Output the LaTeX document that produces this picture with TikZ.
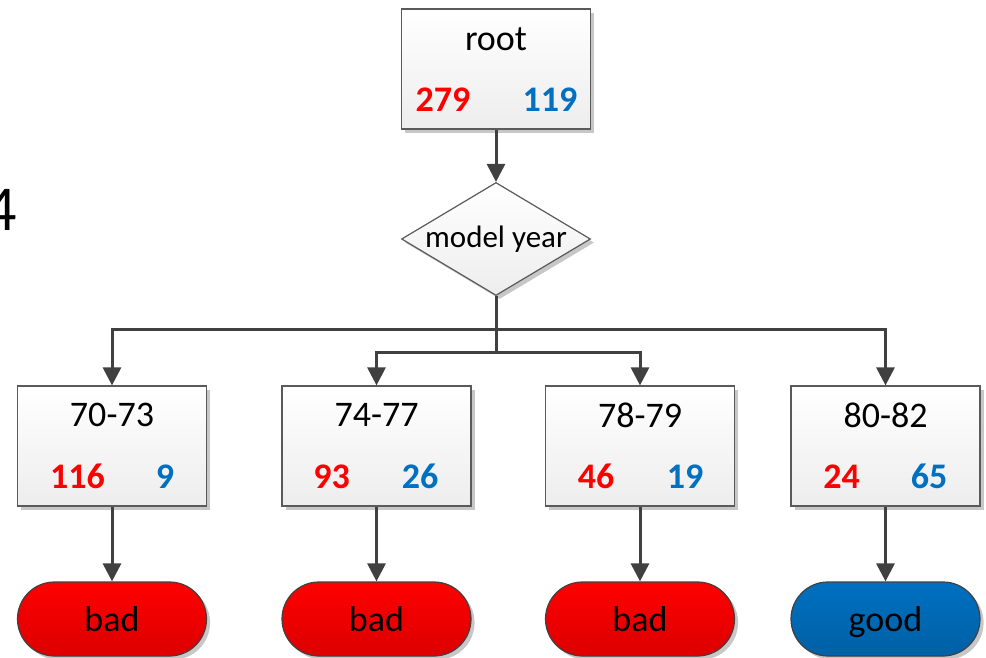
\documentclass[tikz,border=0pt]{standalone}
\usepackage{fontspec}
\setmainfont{Carlito}
\usetikzlibrary{shapes.geometric,shadows,arrows.meta}
\definecolor{linegray}{HTML}{404040}
\definecolor{boxgray}{HTML}{5A5A5A}
\definecolor{badred}{HTML}{FF0000}
\definecolor{goodblue}{HTML}{0070C0}

\begin{document}
\begin{tikzpicture}[x=0.5pt,y=-0.5pt]
	\tikzstyle{every node}+=[inner sep=0pt]
	\tikzstyle{boxshadow}=[drop shadow={shadow xshift=1.8pt,shadow yshift=-1.8pt,fill=black!22,opacity=1}]
	\tikzstyle{yearbox}=[draw=boxgray,line width=0.6pt,top color=white,bottom color=black!7,minimum width=94.5pt,minimum height=60pt,boxshadow]
	\tikzstyle{split}=[diamond,draw=boxgray,line width=0.6pt,top color=white,bottom color=black!7,aspect=1.67,minimum width=94.5pt,minimum height=56.5pt,boxshadow,font=\fontsize{15.5}{18}\selectfont]
	\tikzstyle{leaf}=[draw=linegray,line width=0.6pt,rounded corners=18.5pt,minimum width=94.5pt,minimum height=37pt,text height=12pt,text depth=0pt,boxshadow,font=\fontsize{18}{22}\selectfont]
	\tikzstyle{title}=[font=\fontsize{18}{22}\selectfont]
	\tikzstyle{badcount}=[text=badred,font=\fontsize{18}{22}\selectfont\bfseries]
	\tikzstyle{goodcount}=[text=goodblue,font=\fontsize{18}{22}\selectfont\bfseries]
	\tikzstyle{conn}=[draw=linegray,line width=1.5pt,-{Triangle[width=9pt,length=9pt]}]
	\useasboundingbox (0,0) rectangle (986,658);
	% cut-off digit on the left edge
	\node[font=\fontsize{32}{36}\selectfont,anchor=east] (four) at (17,210) {4};
	% root and split
	\node[yearbox] (root) at (496,69) {};
	\node[title] (rootname) at (496,39) {root};
	\node[badcount] (rootbad) at (443,100) {279};
	\node[goodcount] (rootgood) at (550,100) {119};
	\node[split] (dia) at (496,239) {model year};
	% year ranges
	\node[yearbox] (c1) at (112,446) {};
	\node[title] at (112,415) {70-73};
	\node[badcount] at (77.5,476.5) {116};
	\node[goodcount] at (165,476.5) {9};
	\node[yearbox] (c2) at (376.5,446) {};
	\node[title] at (376.5,415) {74-77};
	\node[badcount] at (331.5,476.5) {93};
	\node[goodcount] at (420,476.5) {26};
	\node[yearbox] (c3) at (640,446) {};
	\node[title] at (640,415) {78-79};
	\node[badcount] at (596,476.5) {46};
	\node[goodcount] at (685,476.5) {19};
	\node[yearbox] (c4) at (885.5,446) {};
	\node[title] at (885.5,415) {80-82};
	\node[badcount] at (841.5,476.5) {24};
	\node[goodcount] at (929,476.5) {65};
	% leaves
	\node[leaf,top color=badred,bottom color=badred!86!black] (l1) at (112,619) {bad};
	\node[leaf,top color=badred,bottom color=badred!86!black] (l2) at (376.5,619) {bad};
	\node[leaf,top color=badred,bottom color=badred!86!black] (l3) at (640,619) {bad};
	\node[leaf,top color=goodblue,bottom color=goodblue!86!black] (l4) at (885.5,619) {good};
	% connectors
	\coordinate (outer) at (496,329);
	\coordinate (inner) at (496,352);
	\draw[conn] (root.south) -- (dia.north);
	\draw[conn] (dia.south) -- (inner) -| (c2.north);
	\draw[conn] (inner) -| (c3.north);
	\draw[conn] (outer) -| (c1.north);
	\draw[conn] (outer) -| (c4.north);
	\draw[conn] (c1.south) -- (l1.north);
	\draw[conn] (c2.south) -- (l2.north);
	\draw[conn] (c3.south) -- (l3.north);
	\draw[conn] (c4.south) -- (l4.north);
\end{tikzpicture}
\end{document}
